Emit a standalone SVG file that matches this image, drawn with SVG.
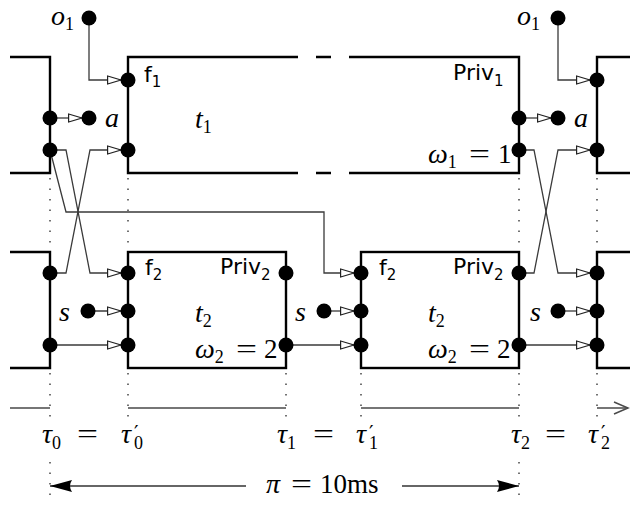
<svg xmlns="http://www.w3.org/2000/svg" width="630" height="508" viewBox="0 0 630 508">
  <style>
    .box{fill:none;stroke:#000;stroke-width:2.4}
    .port{fill:#000}
    .wire{fill:none;stroke:#3a3a3a;stroke-width:1.3;marker-end:url(#open)}
    .grid{fill:none;stroke:#444;stroke-width:1.5;stroke-dasharray:1.5 9}
    .axis{fill:none;stroke:#4a4a4a;stroke-width:1.5}
    .m{font-family:"Liberation Serif","DejaVu Serif",serif;font-style:italic;font-size:28px}
    .n{font-family:"Liberation Serif","DejaVu Serif",serif;font-size:27px}
    .sub{font-family:"Liberation Serif","DejaVu Serif",serif;font-style:normal;font-size:18px}
    .pr{font-family:"DejaVu Sans",sans-serif;font-style:normal;font-size:20px}
    .sf{font-family:"DejaVu Sans",sans-serif;font-size:22px}
    .sfs{font-family:"DejaVu Sans",sans-serif;font-size:15px}
  </style>
  <defs>
    <marker id="open" markerUnits="userSpaceOnUse" viewBox="0 0 16 10" markerWidth="16" markerHeight="10" refX="14" refY="5" orient="auto">
      <path d="M0.6,1 L14,5 L0.6,9 Z" fill="#fff" stroke="#222" stroke-width="1.2"/>
    </marker>
    <marker id="solid" markerUnits="userSpaceOnUse" viewBox="0 0 22 12" markerWidth="22" markerHeight="12" refX="22" refY="6" orient="auto">
      <path d="M0,0 Q4,6 0,12 L22,6 Z" fill="#000"/>
    </marker>
  </defs>

  <!-- time instants -->
  <g id="instants">
    <path class="grid" d="M50,178 V250 M128,178 V250 M519,178 V250 M597,178 V250"/>
    <path class="grid" d="M50,373 V424 M128,373 V424 M286,373 V424 M361,373 V424 M519,373 V424 M597,373 V424"/>
    <path class="grid" d="M50,462 V502 M519,462 V502"/>
  </g>

  <!-- time axis -->
  <g id="axis">
    <path class="axis" d="M10,408 H50 M128,408 H286 M361,408 H519 M597,408 H628"/>
    <path class="axis" d="M614,402 L628,408 L614,414"/>
  </g>

  <!-- connectors -->
  <g id="connectors">
    <path class="wire" d="M89,18 V80 H121"/>
    <path class="wire" d="M50,118 H82"/>
    <path class="wire" d="M50,150 H66 L90,273 H121"/>
    <path class="wire" d="M50,273 H66 L90,150 H121"/>
    <path class="wire" d="M50,150 L66,212 H324 V273 H354"/>
    <path class="wire" d="M88,311 H121"/>
    <path class="wire" d="M50,345 H121"/>
    <path class="wire" d="M324,311 H354"/>
    <path class="wire" d="M286,345 H354"/>
    <path class="wire" d="M558,18 V80 H590"/>
    <path class="wire" d="M519,118 H551"/>
    <path class="wire" d="M519,150 H534 L558,273 H590"/>
    <path class="wire" d="M519,273 H534 L558,150 H590"/>
    <path class="wire" d="M558,311 H590"/>
    <path class="wire" d="M519,345 H590"/>
  </g>

  <!-- task t1 slots -->
  <g id="t1-prev">
    <path class="box" d="M10,57 H50 V173 H10"/>
    <circle class="port" cx="50" cy="118" r="7.5"/>
    <circle class="port" cx="50" cy="150" r="7.5"/>
  </g>
  <g id="t1">
    <path class="box" d="M298,57 H128 V173 H298 M316,57 H331 M316,173 H331 M349,57 H519 V173 H349"/>
    <circle class="port" cx="128" cy="80" r="7.5"/>
    <circle class="port" cx="128" cy="150" r="7.5"/>
    <circle class="port" cx="519" cy="118" r="7.5"/>
    <circle class="port" cx="519" cy="150" r="7.5"/>
    <text class="sf" x="144" y="82">f<tspan class="sfs" dy="5">1</tspan></text>
    <text class="m" x="195" y="128">t<tspan class="sub" dy="5">1</tspan></text>
    <text class="sf" x="453" y="80">Priv<tspan class="sfs" dy="6">1</tspan></text>
    <text class="m" x="428" y="163">ω<tspan class="sub" dy="5">1</tspan></text>
    <text class="n" x="469" y="163" textLength="21" lengthAdjust="spacingAndGlyphs">=</text>
    <text class="n" x="498" y="163">1</text>
  </g>
  <g id="t1-next">
    <path class="box" d="M630,57 H597 V173 H630"/>
    <circle class="port" cx="597" cy="80" r="7.5"/>
    <circle class="port" cx="597" cy="150" r="7.5"/>
  </g>

  <!-- outputs / inputs of t1 -->
  <g id="o1-a">
    <circle class="port" cx="89" cy="18" r="7.5"/>
    <text class="m" x="51" y="25">o<tspan class="sub" dy="5">1</tspan></text>
  </g>
  <g id="a-a">
    <circle class="port" cx="89" cy="118" r="7.5"/>
    <text class="m" x="105" y="127">a</text>
  </g>
  <g id="o1-b">
    <circle class="port" cx="558" cy="18" r="7.5"/>
    <text class="m" x="517" y="25">o<tspan class="sub" dy="5">1</tspan></text>
  </g>
  <g id="a-b">
    <circle class="port" cx="558" cy="118" r="7.5"/>
    <text class="m" x="574" y="127">a</text>
  </g>

  <!-- task t2 slots -->
  <g id="t2-prev">
    <path class="box" d="M10,252 H50 V368 H10"/>
    <circle class="port" cx="50" cy="273" r="7.5"/>
    <circle class="port" cx="50" cy="345" r="7.5"/>
  </g>
  <g id="t2-a">
    <rect class="box" x="128" y="252" width="158" height="116"/>
    <circle class="port" cx="128" cy="273" r="7.5"/>
    <circle class="port" cx="128" cy="311" r="7.5"/>
    <circle class="port" cx="128" cy="345" r="7.5"/>
    <circle class="port" cx="286" cy="273" r="7.5"/>
    <circle class="port" cx="286" cy="345" r="7.5"/>
    <text class="sf" x="145" y="275">f<tspan class="sfs" dy="5">2</tspan></text>
    <text class="sf" x="220" y="274">Priv<tspan class="sfs" dy="6">2</tspan></text>
    <text class="m" x="195" y="322">t<tspan class="sub" dy="5">2</tspan></text>
    <text class="m" x="195" y="358">ω<tspan class="sub" dy="5">2</tspan></text>
    <text class="n" x="236" y="358" textLength="21" lengthAdjust="spacingAndGlyphs">=</text>
    <text class="n" x="264" y="358">2</text>
  </g>
  <g id="t2-b">
    <rect class="box" x="361" y="252" width="158" height="116"/>
    <circle class="port" cx="361" cy="273" r="7.5"/>
    <circle class="port" cx="361" cy="311" r="7.5"/>
    <circle class="port" cx="361" cy="345" r="7.5"/>
    <circle class="port" cx="519" cy="273" r="7.5"/>
    <circle class="port" cx="519" cy="345" r="7.5"/>
    <text class="sf" x="379" y="275">f<tspan class="sfs" dy="5">2</tspan></text>
    <text class="sf" x="453" y="274">Priv<tspan class="sfs" dy="6">2</tspan></text>
    <text class="m" x="428" y="322">t<tspan class="sub" dy="5">2</tspan></text>
    <text class="m" x="428" y="358">ω<tspan class="sub" dy="5">2</tspan></text>
    <text class="n" x="469" y="358" textLength="21" lengthAdjust="spacingAndGlyphs">=</text>
    <text class="n" x="497" y="358">2</text>
  </g>
  <g id="t2-next">
    <path class="box" d="M630,252 H597 V368 H630"/>
    <circle class="port" cx="597" cy="273" r="7.5"/>
    <circle class="port" cx="597" cy="311" r="7.5"/>
    <circle class="port" cx="597" cy="345" r="7.5"/>
  </g>

  <!-- sensor inputs -->
  <g id="s-a">
    <circle class="port" cx="88" cy="311" r="7.5"/>
    <text class="m" x="59" y="321">s</text>
  </g>
  <g id="s-b">
    <circle class="port" cx="324" cy="311" r="7.5"/>
    <text class="m" x="295" y="321">s</text>
  </g>
  <g id="s-c">
    <circle class="port" cx="558" cy="311" r="7.5"/>
    <text class="m" x="530" y="321">s</text>
  </g>

  <!-- instant labels -->
  <g id="tau-labels">
    <text class="m" x="42" y="443">τ<tspan class="sub" dy="6">0</tspan></text>
    <text class="n" x="77" y="443" textLength="21" lengthAdjust="spacingAndGlyphs">=</text>
    <text class="m" x="121" y="443">τ<tspan class="pr" x="134" dy="-4">′</tspan><tspan class="sub" x="134" dy="10">0</tspan></text>

    <text class="m" x="277" y="443">τ<tspan class="sub" dy="6">1</tspan></text>
    <text class="n" x="313" y="443" textLength="21" lengthAdjust="spacingAndGlyphs">=</text>
    <text class="m" x="356" y="443">τ<tspan class="pr" x="369" dy="-4">′</tspan><tspan class="sub" x="369" dy="10">1</tspan></text>

    <text class="m" x="511" y="443">τ<tspan class="sub" dy="6">2</tspan></text>
    <text class="n" x="545" y="443" textLength="21" lengthAdjust="spacingAndGlyphs">=</text>
    <text class="m" x="588" y="443">τ<tspan class="pr" x="601" dy="-4">′</tspan><tspan class="sub" x="601" dy="10">2</tspan></text>
  </g>

  <!-- period -->
  <g id="period">
    <path fill="none" stroke="#333" stroke-width="1.5" marker-end="url(#solid)" d="M246,486 H50"/>
    <path fill="none" stroke="#333" stroke-width="1.5" marker-end="url(#solid)" d="M402,486 H519"/>
    <text class="m" x="266" y="493">π</text>
    <text class="n" x="291" y="493" textLength="21" lengthAdjust="spacingAndGlyphs">=</text>
    <text class="n" x="320" y="493" style="font-size:27px">10ms</text>
  </g>
</svg>
